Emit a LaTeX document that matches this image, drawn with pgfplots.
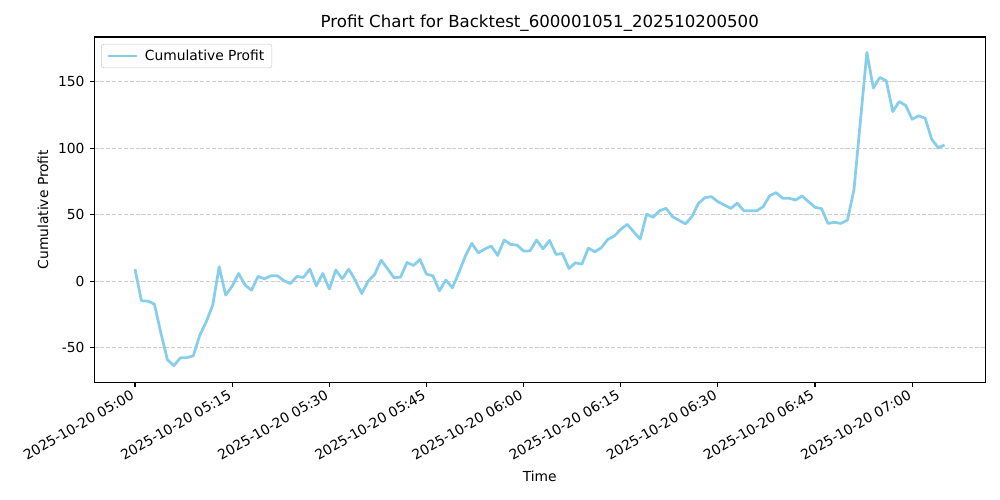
\documentclass[border=0pt]{standalone}
\usepackage{pgfplots}
\pgfplotsset{compat=1.18}
\usepackage{fontspec}
\setmainfont{DejaVu Sans}
\definecolor{skyblue}{RGB}{135,206,235}
\definecolor{gridc}{RGB}{205,205,205}
\definecolor{legc}{RGB}{204,204,204}
\begin{document}
\begin{tikzpicture}
\useasboundingbox (0,0) rectangle (722.7pt,361.35pt);
\begin{axis}[
  at={(68.3pt,85.1pt)}, anchor=south west,
  scale only axis, width=643.6pt, height=249.5pt,
  xmin=-6.25, xmax=131.25, ymin=-76, ymax=183.5,
  axis line style={line width=0.8pt},
  tick align=outside, tick pos=left,
  major tick length=3.5pt,
  every tick/.style={black, line width=0.8pt},
  xtick={0,15,30,45,60,75,90,105,120},
  xticklabels={2025-10-20 05:00,2025-10-20 05:15,2025-10-20 05:30,2025-10-20 05:45,2025-10-20 06:00,2025-10-20 06:15,2025-10-20 06:30,2025-10-20 06:45,2025-10-20 07:00},
  xticklabel style={xshift=-3.2pt, yshift=0pt, rotate=30, anchor=north east, inner sep=1pt},
  ytick={-50,0,50,100,150},
  yticklabel style={inner sep=1pt, xshift=-2.5pt},
  /pgf/number format/assume math mode=true,
  ymajorgrids, xmajorgrids=false,
  major grid style={gridc, line width=0.8pt, dash pattern=on 2.96pt off 1.28pt},
  title={Profit Chart for Backtest\_600001051\_202510200500},
  title style={font=\fontsize{12}{14}\selectfont, at={(axis description cs:0.5,1.0289)}, anchor=base, yshift=-6pt},
  xlabel={Time},
  xlabel style={at={(axis description cs:0.5,-0.2886)}, anchor=base},
  ylabel={Cumulative Profit},
  ylabel style={at={(axis description cs:-0.0578,0.5)}, anchor=center},
  legend style={at={(axis description cs:0,1)}, anchor=north west, xshift=4.7pt, yshift=-5pt,
    draw=legc, rounded corners=2pt, fill=white, fill opacity=0.8, text opacity=1,
    inner xsep=3.5pt, inner ysep=2pt, font=\fontsize{10}{12}\selectfont},
  legend cell align=left,
  legend image code/.code={\draw[#1, line width=2pt] (0pt,0pt) -- (21pt,0pt); \path (24pt,0pt);},
]
\addplot[skyblue, line width=2pt, line join=round] coordinates {
(0,9) (1,-14.8) (2,-15) (3,-17.3) (4,-39) (5,-59) (6,-63.5) (7,-57.7) (8,-57.5) (9,-56.2)
(10,-40.7) (11,-30.6) (12,-18) (13,10.8) (14,-10.5) (15,-3.8) (16,5.8) (17,-3) (18,-6.8) (19,3.5)
(20,1.8) (21,4) (22,4) (23,0.3) (24,-1.8) (25,3.5) (26,2.8) (27,9) (28,-3.5) (29,5.8)
(30,-6) (31,8.3) (32,1.8) (33,9) (34,0.8) (35,-9.3) (36,0) (37,5) (38,15.8) (39,9.3)
(40,2.5) (41,3) (42,14) (43,11.8) (44,16.3) (45,5.3) (46,4) (47,-7.3) (48,0.8) (49,-5)
(50,6.3) (51,18.8) (52,28.4) (53,21.3) (54,24.1) (55,26.4) (56,19.3) (57,30.9) (58,27.6) (59,27.1)
(60,22.6) (61,22.8) (62,30.9) (63,24.3) (64,30.6) (65,20.1) (66,20.8) (67,9.5) (68,13.8) (69,12.8)
(70,24.8) (71,22.1) (72,25.1) (73,31.4) (74,33.9) (75,38.9) (76,42.7) (77,37.1) (78,31.6) (79,50.4)
(80,48) (81,52.9) (82,54.7) (83,48.4) (84,45.7) (85,43.1) (86,48.6) (87,58.5) (88,62.7) (89,63.5)
(90,59.7) (91,57.2) (92,54.7) (93,58.7) (94,52.9) (95,52.9) (96,52.9) (97,56) (98,64.2) (99,66.5)
(100,62.3) (101,62.3) (102,61) (103,64) (104,59.7) (105,55.5) (106,54.5) (107,43.4) (108,44.2) (109,43.4)
(110,45.9) (111,68.5) (112,120) (113,171.9) (114,145.1) (115,153.1) (116,150.6) (117,127.5) (118,135) (119,132)
(120,121.7) (121,124.2) (122,122.5) (123,106.7) (124,100.4) (125,102.2)
};
\addlegendentry{Cumulative Profit}
\end{axis}
\end{tikzpicture}
\end{document}
